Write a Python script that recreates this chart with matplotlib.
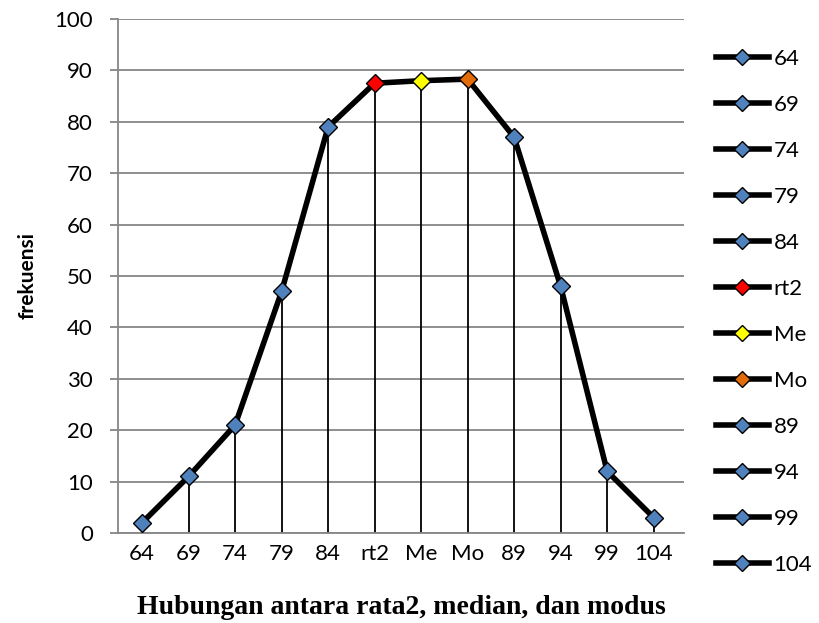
import matplotlib.pyplot as plt
from matplotlib.lines import Line2D

# data
categories = ["64", "69", "74", "79", "84", "rt2", "Me", "Mo", "89", "94", "99", "104"]
frekuensi = [2, 11, 21, 47, 79, 87.5, 88, 88.3, 77, 48, 12, 3]
point_colors = ["#4F81BD"] * 5 + ["#FF0000", "#FFFF00", "#E36C09"] + ["#4F81BD"] * 4

plt.rcParams['font.family'] = ['Lato', 'DejaVu Sans']

fig = plt.figure(figsize=(8.19, 6.23), dpi=100)
ax = fig.add_axes([0.144, 0.1445, 0.691, 0.825])

x = list(range(len(categories)))

# grid
ax.set_ylim(0, 100)
ax.set_xlim(-0.52, len(categories) - 0.35)
ax.set_yticks(range(0, 101, 10))
ax.yaxis.grid(True, color="#868686", linewidth=1.3)
ax.set_axisbelow(True)

# drop lines
ax.vlines(x, 0, frekuensi, color="black", linewidth=1.3, zorder=2)

# main line
ax.plot(x, frekuensi, color="black", linewidth=4, zorder=3, solid_capstyle="round")
for xi, yi, c in zip(x, frekuensi, point_colors):
    ax.plot(xi, yi, marker="D", markersize=9.5, markerfacecolor=c,
            markeredgecolor="black", markeredgewidth=1.0, zorder=4)

# axes styling
for s in ["top", "right"]:
    ax.spines[s].set_visible(False)
ax.spines["left"].set_color("#868686")
ax.spines["bottom"].set_color("#868686")
ax.spines["left"].set_linewidth(1.3)
ax.spines["bottom"].set_linewidth(1.3)
ax.tick_params(axis="y", length=6, width=1.3, color="#868686", labelsize=16, pad=12)
ax.tick_params(axis="x", length=0, labelsize=16, pad=8)
ax.set_xticks(x)
ax.set_xticklabels(categories)

ax.set_ylabel("frekuensi", fontsize=15, fontweight="bold", labelpad=12)
ax.set_xlabel("Hubungan antara rata2, median, dan modus", fontsize=20,
              fontweight="bold", family=["Liberation Serif"], labelpad=22)

# legend
handles = [Line2D([0], [0], color="black", linewidth=4, marker="D", markersize=8.5,
                  markerfacecolor=c, markeredgecolor="black", markeredgewidth=1.0)
           for c in point_colors]
leg = fig.legend(handles, categories, loc="upper left", bbox_to_anchor=(0.874, 0.922),
                 frameon=False, fontsize=16, handlelength=2.4, handletextpad=0.2,
                 labelspacing=1.17, borderaxespad=0, borderpad=0)

fig.savefig("out.png", dpi=100)
